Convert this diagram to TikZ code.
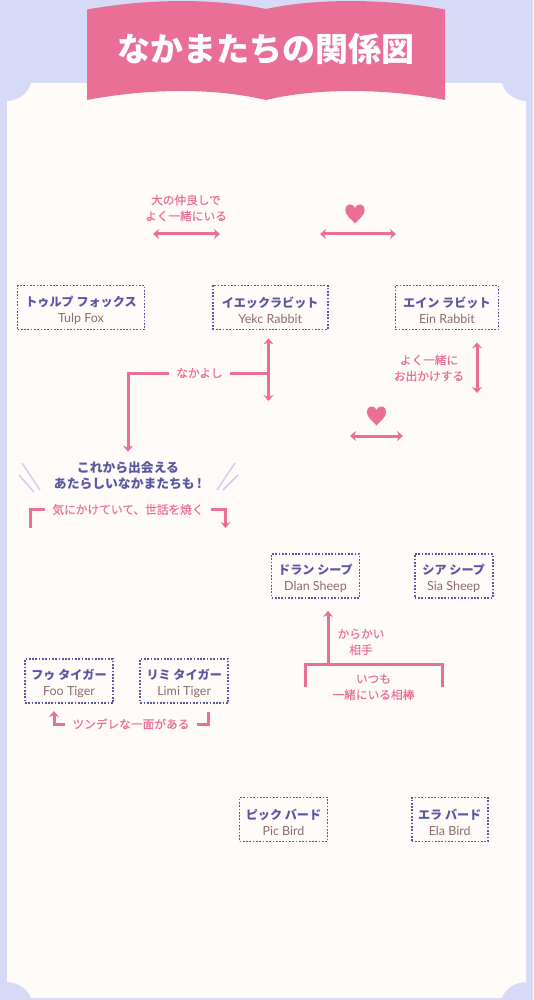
\documentclass[tikz,border=0pt]{standalone}
\usepackage{fontspec}
\usepackage{xcolor}
\usepackage{tikz}
\usetikzlibrary{arrows.meta,positioning,calc}
\setmainfont{Noto Sans CJK JP}
\newfontfamily\cjkmed[FakeBold=0.25]{Noto Sans CJK JP}
\newfontfamily\latn{Lato}
\definecolor{skyback}{HTML}{D6DAF6}
\definecolor{paper}{HTML}{FFFBF8}
\definecolor{rosepink}{HTML}{E96F97}
\definecolor{namepurple}{HTML}{5B56A3}
\definecolor{enbrown}{HTML}{8F6A6E}
\definecolor{slash}{HTML}{CBD0EC}
\newcommand{\charlabel}[2]{\rule{0pt}{16pt}{\bfseries\color{namepurple}#1}\\{\latn\color{enbrown}\fontsize{12.5}{16}\selectfont #2}}

\begin{document}
\begin{tikzpicture}[
    x=1pt, y=-1pt,
    charbox/.style={rectangle, draw=namepurple, line width=1.7pt, dash pattern=on 1.7pt off 1.6pt, align=center, minimum height=44pt, inner sep=0pt, font=\fontsize{12.1}{16}\selectfont},
    lbl/.style={align=center, text=rosepink, inner ysep=0pt, inner xsep=7pt, font=\cjkmed\fontsize{11.7}{16}\selectfont},
    line/.style={draw=rosepink, line width=3pt},
    arr/.style={line, -{Stealth[length=6pt, width=10pt]}},
    dblarr/.style={line, {Stealth[length=6pt, width=10pt]}-{Stealth[length=6pt, width=10pt]}},
    deco/.style={draw=slash, line width=1.5pt},
    heart/.pic={\fill [rosepink] (0,9.5) .. controls (-4,5) and (-9.7,1) .. (-9.7,-4) .. controls (-9.7,-10) and (-3,-12) .. (0,-6) .. controls (3,-12) and (9.7,-10) .. (9.7,-4) .. controls (9.7,1) and (4,5) .. (0,9.5);}
]
    \useasboundingbox (0,0) rectangle (533,1000);
    \fill [skyback] (0,0) rectangle (533,1000);
    \fill [paper] (31,83) -- (502,83) .. controls (504,93) and (515,101) .. (526,101) -- (526,982) .. controls (514,982) and (504,990) .. (502,998) -- (31,998) .. controls (29,990) and (18,982) .. (7,982) -- (7,101) .. controls (18,101) and (29,93) .. (31,83);
    \fill [rosepink] (87,9.5) .. controls (150,-1.7) and (215,-1.7) .. (266,9) .. controls (315,-1.7) and (385,-1.7) .. (445,9.5) -- (445,100) .. controls (385,88) and (315,88) .. (266,100) .. controls (215,88) and (150,88) .. (87,100) -- cycle;
    \node [text=white, font=\fontsize{33}{36}\selectfont\bfseries] (title) at (266,48.5) {なかまたちの関係図};

    \node [charbox, minimum width=127pt] (tulp) at (81,307.5) {\charlabel{トゥルプ フォックス}{Tulp Fox}};
    \node [charbox, minimum width=115pt, right=66.5pt of tulp] (yekc) {\charlabel{イエックラビット}{Yekc Rabbit}};
    \node [charbox, minimum width=103pt, right=66pt of yekc] (ein) {\charlabel{エイン ラビット}{Ein Rabbit}};
    \node [charbox, minimum width=88pt] (dlan) at (315.5,576) {\charlabel{ドラン シープ}{Dlan Sheep}};
    \node [charbox, minimum width=78pt, right=53.5pt of dlan] (sia) {\charlabel{シア シープ}{Sia Sheep}};
    \node [charbox, minimum width=88pt] (foo) at (69,681) {\charlabel{フゥ タイガー}{Foo Tiger}};
    \node [charbox, minimum width=88pt, right=25.5pt of foo] (limi) {\charlabel{リミ タイガー}{Limi Tiger}};
    \node [charbox, minimum width=88pt] (pic) at (283.5,819.5) {\charlabel{ピック バード}{Pic Bird}};
    \node [charbox, minimum width=76pt, right=82.5pt of pic] (ela) {\charlabel{エラ バード}{Ela Bird}};

    \node [lbl] (bestfriends) at (186,208) {大の仲良しで\\よく一緒にいる};
    \node [lbl] (nakayoshi) at (199.5,373) {なかよし};
    \node [lbl] (outings) at (429,368) {よく一緒に\\お出かけする};
    \node [lbl] (caring) at (128,509.5) {気にかけていて、世話を焼く};
    \node [lbl] (teasing) at (361,642) {からかい\\相手};
    \node [lbl] (partners) at (373.5,687) {いつも\\一緒にいる相棒};
    \node [lbl] (tsundere) at (131,724) {ツンデレな一面がある};
    \node [align=center, text=namepurple, inner sep=0pt, font=\fontsize{12.8}{16}\selectfont\bfseries] (newfriends) at (128,476) {これから出会える\\あたらしいなかまたちも\,!};

    \coordinate (bestl) at (153,234);
    \coordinate (bestr) at (220,234);
    \coordinate (lovel) at (320,234);
    \coordinate (lover) at (396,234);
    \coordinate (nakaend) at (268.5,401);
    \coordinate (outend) at (477,393);
    \coordinate (eloperl) at (350,436);
    \coordinate (eloperr) at (403,436);
    \coordinate (carel) at (30,528);
    \coordinate (carer) at (225.5,528);
    \coordinate (tsunl) at (54,711);
    \coordinate (tsunr) at (208,712);
    \coordinate (pairl) at (305,687);
    \coordinate (pairr) at (442,687);
    \coordinate (pairj) at (328,664);

    \draw [dblarr] (bestl) -- (bestr);
    \draw [dblarr] (lovel) -- (lover);
    \draw [dblarr] (eloperl) -- (eloperr);
    \draw [dblarr, shorten <=8pt] (nakaend |- yekc.south) -- (nakaend);
    \draw [dblarr, shorten <=12pt] (outend |- ein.south) -- (outend);
    \draw [line] (nakayoshi.east) -- (nakaend |- nakayoshi.east);
    \draw [arr, shorten >=10pt] (nakayoshi.west) -| (newfriends.north);
    \draw [line] (caring.west) -| (carel);
    \draw [arr] (caring.east) -| (carer);
    \draw [arr] (tsundere.west) -| (tsunl);
    \draw [line] (tsundere.east) -| (tsunr);
    \draw [line] (pairl) -- (pairl |- pairj) -- (pairr |- pairj) -- (pairr);
    \draw [arr, shorten >=12pt] (pairj) -- (pairj |- dlan.south);

    \pic at (355,214) {heart};
    \pic at (376.5,416) {heart};

    \draw [deco] (22,463) -- (40,490);
    \draw [deco] (19,475) -- (34,492);
    \draw [deco] (235,463) -- (217,490);
    \draw [deco] (238,475) -- (223,490);
\end{tikzpicture}
\end{document}
